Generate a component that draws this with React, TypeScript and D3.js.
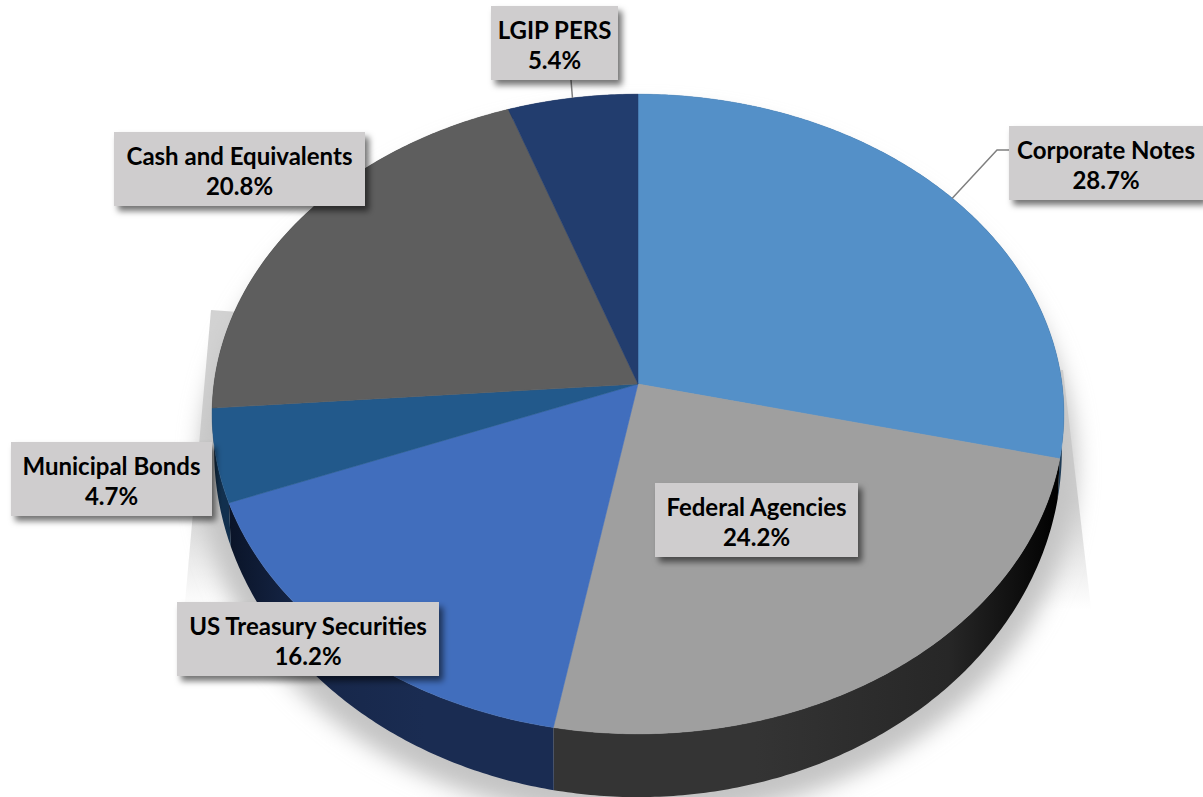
import React from "react";
import * as d3 from "d3";

// Portfolio allocation, in percent, clockwise from twelve o'clock.
const categories = [
  "Corporate Notes",
  "Federal Agencies",
  "US Treasury Securities",
  "Municipal Bonds",
  "Cash and Equivalents",
  "LGIP PERS",
];
const shares = [28.7, 24.2, 16.2, 4.7, 20.8, 5.4];

const topColors = ["#5490c8", "#9f9f9f", "#416ebd", "#22598b", "#5e5e5e", "#223d6e"];
const wallDark = ["#1d3a55", "#000000", "#0a1428", "#0a1a2a", "#1a1a1a", "#0d1a30"];
const wallLight = ["#2a5478", "#343434", "#1a2c52", "#12304e", "#333333", "#182a4c"];

// Label box left, top, width per category; every box has the same height.
const labelLeft = [1009, 655, 177, 11, 114, 491];
const labelTop = [126, 483, 602, 442, 132, 6];
const labelWidth = [194, 203, 262, 201, 251, 127];
const labelHeight = 74;

const WIDTH = 1203;
const HEIGHT = 797;
const CENTER_X = 638;
const TILT = 0.0938;

type Disc = { y0: number; a: number; b: number };
const topDisc: Disc = { y0: 384, a: 424, b: 317 };
const baseDisc: Disc = { y0: 417.5, a: 422, b: 344 };

// Perspective projection of a point on the unit circle; angle runs clockwise from north.
const project = (disc: Disc, angle: number, radius = 1): [number, number] => {
  const u = radius * Math.sin(angle);
  const v = radius * Math.cos(angle);
  const w = 1 + TILT * v;
  return [CENTER_X + (disc.a * u) / w, disc.y0 - (disc.b * v) / w];
};

const arcPoints = (disc: Disc, a0: number, a1: number) => {
  const steps = Math.max(2, Math.ceil(Math.abs(a1 - a0) / 0.01));
  return d3.range(steps + 1).map((i) => project(disc, a0 + ((a1 - a0) * i) / steps));
};

const line = d3.line();
const pie = d3.pie<number>().sort(null);
const arcs = pie(shares);
const formatShare = d3.format(".1f");

const sliceTop = (a0: number, a1: number) =>
  line([project(topDisc, 0, 0), ...arcPoints(topDisc, a0, a1)]) + "Z";
const sliceWall = (a0: number, a1: number) =>
  line([...arcPoints(topDisc, a0, a1), ...arcPoints(baseDisc, a1, a0)]) + "Z";

// Outline of the soft cast shadow below the disc.
const shadowDisc: Disc = { y0: 432, a: 436, b: 352 };
const shadowOutline = line(arcPoints(shadowDisc, 0, Math.PI * 2)) + "Z";

const leaderPaths: Record<string, [number, number][]> = {
  "Corporate Notes": [[997, 150], [1009, 150]],
  "LGIP PERS": [[571, 80]],
};

const FONT = "Lato, Carlito, sans-serif";

export default function App() {
  return (
    <svg
      width={WIDTH}
      height={HEIGHT}
      viewBox={`0 0 ${WIDTH} ${HEIGHT}`}
      style={{ position: "absolute", left: 0, top: 0, display: "block", background: "#fff" }}
    >
      <defs>
        <filter id="castBlur" x="-10%" y="-10%" width="120%" height="120%">
          <feGaussianBlur stdDeviation="11" />
        </filter>
        <filter id="boxShadow" x="-10%" y="-20%" width="125%" height="150%">
          <feDropShadow dx="4" dy="5" stdDeviation="3" floodColor="#000" floodOpacity="0.55" />
        </filter>
        <linearGradient id="castFade" x1="0" y1="0" x2="0" y2="1">
          <stop offset="0.6" stopColor="#d2d2d2" stopOpacity="1" />
          <stop offset="0.95" stopColor="#d2d2d2" stopOpacity="0" />
        </linearGradient>
        {arcs.map((d, i) => {
          const xs = arcPoints(topDisc, d.startAngle, d.endAngle).map((p) => p[0]);
          const [x0, x1] = d3.extent(xs) as [number, number];
          const darkAtRight = i < 2;
          return (
            <linearGradient
              key={i}
              id={`wall${i}`}
              gradientUnits="userSpaceOnUse"
              x1={darkAtRight ? x1 : x0}
              y1="0"
              x2={darkAtRight ? x0 : x1}
              y2="0"
            >
              <stop offset="0" stopColor={wallDark[i]} />
              <stop offset="0.22" stopColor={d3.interpolateRgb(wallDark[i], wallLight[i])(0.75)} />
              <stop offset="0.6" stopColor={wallLight[i]} />
              <stop offset="1" stopColor={wallLight[i]} />
            </linearGradient>
          );
        })}
      </defs>

      {/* Cast shadow: hard-edged flare at the sides, blurred under the disc */}
      <path
        d={`M${CENTER_X + 425},370 L${CENTER_X + 455},625 L${CENTER_X - 455},625 L${CENTER_X - 427},310 Z`}
        fill="url(#castFade)"
      />
      <path d={shadowOutline} fill="#c4c4c4" filter="url(#castBlur)" />

      {/* Side walls, then the top faces over them */}
      {arcs.map((d, i) => (
        <path key={i} d={sliceWall(d.startAngle, d.endAngle)} fill={`url(#wall${i})`} />
      ))}
      {arcs.map((d, i) => (
        <path
          key={i}
          d={sliceTop(d.startAngle, d.endAngle)}
          fill={topColors[i]}
          stroke={topColors[i]}
          strokeWidth={0.5}
        />
      ))}

      {/* Leader lines from slice rims to outlying labels */}
      {arcs.map((d, i) => {
        const tail = leaderPaths[categories[i]];
        if (!tail) return null;
        const anchor = project(topDisc, (d.startAngle + d.endAngle) / 2);
        return (
          <path key={i} d={line([anchor, ...tail]) ?? ""} fill="none" stroke="#7f7f7f" strokeWidth={1.5} />
        );
      })}

      {/* Data labels */}
      {categories.map((name, i) => {
        const x = labelLeft[i];
        const y = labelTop[i];
        const w = labelWidth[i];
        const cx = x + w / 2;
        return (
          <g key={name}>
            <rect x={x} y={y} width={w} height={labelHeight} fill="#cfcdce" filter="url(#boxShadow)" />
            <text
              x={cx}
              y={y + 33}
              textAnchor="middle"
              fontFamily={FONT}
              fontWeight={700}
              fontSize={24}
              fill="#000"
            >
              {name}
            </text>
            <text
              x={cx}
              y={y + 63}
              textAnchor="middle"
              fontFamily={FONT}
              fontWeight={700}
              fontSize={24}
              fill="#000"
            >
              {formatShare(shares[i])}%
            </text>
          </g>
        );
      })}
    </svg>
  );
}
